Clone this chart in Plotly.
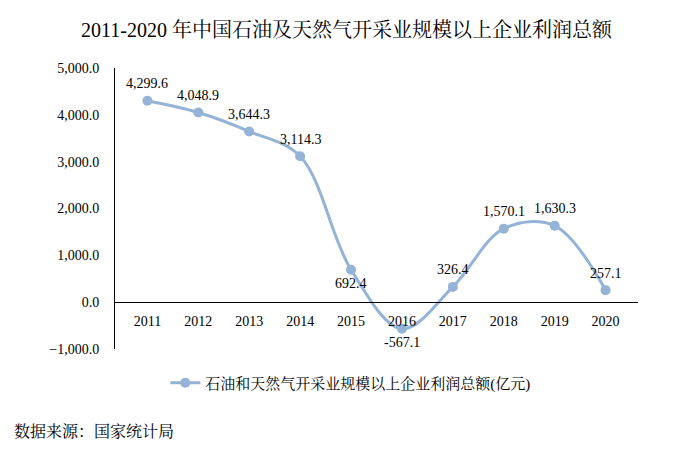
import plotly.graph_objects as go

# données : profits totaux (亿元)
annees = ["2011", "2012", "2013", "2014", "2015", "2016", "2017", "2018", "2019", "2020"]
profits = [4299.6, 4048.9, 3644.3, 3114.3, 692.4, -567.1, 326.4, 1570.1, 1630.3, 257.1]

titre = "2011-2020 年中国石油及天然气开采业规模以上企业利润总额"
nom_serie = "石油和天然气开采业规模以上企业利润总额(亿元)"
source = "数据来源：国家统计局"

police = "Times New Roman, Liberation Serif, Noto Serif CJK SC, Noto Sans CJK SC, serif"
couleur = "#95B3D7"

# étiquettes au-dessus des points, sauf 2015 et 2016 en dessous
decalages = [17, 17, 17, 17, -14, -14, 17, 17, 17, 17]

fig = go.Figure()
fig.add_trace(go.Scatter(
    x=annees,
    y=profits,
    mode="lines+markers",
    name=nom_serie,
    line=dict(color=couleur, width=3, shape="spline", smoothing=1),
    marker=dict(color=couleur, size=10),
    cliponaxis=False,
))

# sur un axe catégoriel, la position d'une catégorie est son indice
annotations = [dict(
    x=i, y=v, xref="x", yref="y", text="{:,.1f}".format(v),
    showarrow=False, yshift=d, xanchor="center", yanchor="middle",
    font=dict(family=police, size=14, color="#000000"),
) for i, (v, d) in enumerate(zip(profits, decalages))]

annotations.append(dict(
    text=source, xref="paper", yref="paper", x=-0.197, y=-0.295,
    xanchor="left", yanchor="middle", showarrow=False,
    font=dict(family=police, size=16, color="#000000"),
))

# mise en page (la page html a une marge de 8px autour de la figure)
fig.update_layout(
    width=684, height=433,
    margin=dict(l=107, r=54, t=60, b=92),
    paper_bgcolor="white", plot_bgcolor="white",
    font=dict(family=police, size=14, color="#000000"),
    title=dict(text=titre, x=0.495, xanchor="center", y=0.949, yanchor="middle",
               font=dict(family=police, size=20, color="#000000")),
    showlegend=True,
    legend=dict(orientation="h", x=0.45, xanchor="center", y=-0.121, yanchor="middle",
                font=dict(family=police, size=15, color="#000000")),
    xaxis=dict(
        type="category", categoryorder="array", categoryarray=annees,
        showline=True, linecolor="#000000", linewidth=1,
        anchor="free", position=1/6, showgrid=False, zeroline=False,
        ticks="", ticklabelstandoff=6,
        tickfont=dict(family=police, size=14, color="#000000"),
    ),
    yaxis=dict(
        range=[-1000, 5000], dtick=1000, tickformat=",.1f",
        showline=True, linecolor="#000000", linewidth=1,
        showgrid=False, zeroline=False, ticks="", ticklabelstandoff=12,
        tickfont=dict(family=police, size=14, color="#000000"),
    ),
    annotations=annotations,
)

fig.write_html("out.html")
